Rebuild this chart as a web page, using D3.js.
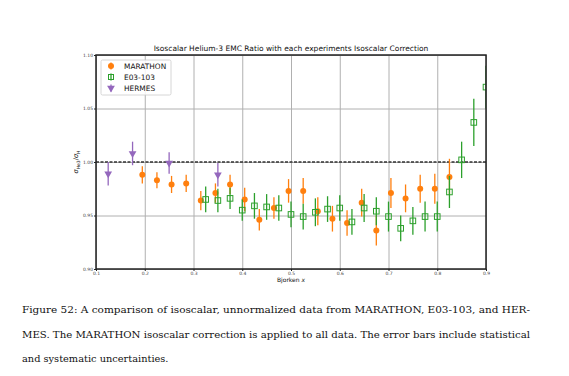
<!DOCTYPE html>
<html>
<head>
<meta charset="utf-8">
<script src="https://cdn.jsdelivr.net/npm/d3@7"></script>
<style>
  body { margin: 0; background: #fff; }
  svg { display: block; }
  .tick text { font-family: "DejaVu Sans", sans-serif; fill: #444; }
</style>
</head>
<body>
<div id="chart"></div>
<script>
// data
var marathonX = [0.195, 0.225, 0.255, 0.285, 0.315, 0.345, 0.375, 0.405, 0.435, 0.465, 0.495,
    0.525, 0.555, 0.585, 0.615, 0.645, 0.675, 0.705, 0.735, 0.765, 0.795, 0.825];
var marathonY = [0.988, 0.983, 0.979, 0.980, 0.964, 0.971, 0.979, 0.965, 0.946, 0.957, 0.973,
    0.973, 0.954, 0.947, 0.943, 0.962, 0.936, 0.971, 0.966, 0.975, 0.975, 0.986];
var marathonErr = [0.008, 0.0075, 0.008, 0.008, 0.009, 0.009, 0.009, 0.011, 0.010, 0.010, 0.011,
    0.012, 0.013, 0.012, 0.012, 0.013, 0.014, 0.014, 0.013, 0.013, 0.014, 0.017];

var e03X = [0.325, 0.35, 0.375, 0.40, 0.425, 0.45, 0.475, 0.50, 0.525, 0.55, 0.575, 0.60,
    0.625, 0.65, 0.675, 0.70, 0.725, 0.75, 0.775, 0.80, 0.825, 0.85, 0.875, 0.90];
var e03Y = [0.965, 0.964, 0.966, 0.955, 0.959, 0.958, 0.957, 0.951, 0.949, 0.953, 0.956, 0.957,
    0.944, 0.957, 0.954, 0.949, 0.938, 0.945, 0.949, 0.949, 0.972, 1.002, 1.037, 1.070];
var e03Err = [0.012, 0.011, 0.010, 0.010, 0.012, 0.012, 0.012, 0.012, 0.012, 0.013, 0.012, 0.012,
    0.012, 0.013, 0.013, 0.014, 0.012, 0.013, 0.014, 0.014, 0.015, 0.017, 0.022, 0.020];

var hermesX = [0.125, 0.175, 0.25, 0.35];
var hermesY = [0.989, 1.008, 0.999, 0.988];
var hermesErr = [0.011, 0.011, 0.010, 0.011];

var xTicks = [0.1, 0.2, 0.3, 0.4, 0.5, 0.6, 0.7, 0.8, 0.9];
var yTicks = [0.90, 0.95, 1.00, 1.05, 1.10];

var chartTitle = "Isoscalar Helium-3 EMC Ratio with each experiments Isoscalar Correction";
var captionLines = [
    "Figure 52: A comparison of isoscalar, unnormalized data from MARATHON, E03-103, and HER-",
    "MES. The MARATHON isoscalar correction is applied to all data. The error bars include statistical",
    "and systematic uncertainties."
];

var colors = { marathon: "#ff7f0e", e03: "#2ca02c", hermes: "#9467bd" };

var W = 569, H = 376;
var margin = { top: 55, bottom: 107, left: 96, right: 83 };

var svg = d3.select("#chart").append("svg")
    .attr("width", W)
    .attr("height", H);

var xScale = d3.scaleLinear().domain([0.1, 0.9]).range([margin.left, W - margin.right]);
var yScale = d3.scaleLinear().domain([0.90, 1.10]).range([H - margin.bottom, margin.top]);

function zip(xs, ys, es) {
    return xs.map(function (x, i) { return { x: x, y: ys[i], e: es[i] }; });
}

var plot = svg.append("g");

plot.append("defs").append("clipPath").attr("id", "clip")
    .append("rect")
    .attr("x", xScale(0.1)).attr("y", yScale(1.10))
    .attr("width", xScale(0.9) - xScale(0.1))
    .attr("height", yScale(0.90) - yScale(1.10));

// grid
plot.append("g")
    .attr("transform", "translate(0," + yScale(0.90) + ")")
    .call(d3.axisBottom(xScale).tickValues(xTicks).tickSize(-(yScale(0.90) - yScale(1.10))).tickFormat(""))
    .call(function (g) { g.select(".domain").remove(); })
    .selectAll("line").attr("stroke", "#b0b0b0").attr("stroke-width", 1);

plot.append("g")
    .attr("transform", "translate(" + xScale(0.1) + ",0)")
    .call(d3.axisLeft(yScale).tickValues(yTicks).tickSize(-(xScale(0.9) - xScale(0.1))).tickFormat(""))
    .call(function (g) { g.select(".domain").remove(); })
    .selectAll("line").attr("stroke", "#b0b0b0").attr("stroke-width", 1);

// reference line at 1
plot.append("line")
    .attr("x1", xScale(0.1)).attr("x2", xScale(0.9))
    .attr("y1", yScale(1.0)).attr("y2", yScale(1.0))
    .attr("stroke", "#333").attr("stroke-width", 1.4)
    .attr("stroke-dasharray", "3,1.5");

var marks = plot.append("g").attr("clip-path", "url(#clip)");

function errorBars(data, color) {
    marks.append("g").selectAll("line")
        .data(data).enter().append("line")
        .attr("x1", function (d) { return xScale(d.x); })
        .attr("x2", function (d) { return xScale(d.x); })
        .attr("y1", function (d) { return yScale(d.y - d.e); })
        .attr("y2", function (d) { return yScale(d.y + d.e); })
        .attr("stroke", color)
        .attr("stroke-width", 1.3);
}

var marathon = zip(marathonX, marathonY, marathonErr);
var e03 = zip(e03X, e03Y, e03Err);
var hermes = zip(hermesX, hermesY, hermesErr);

errorBars(marathon, colors.marathon);
marks.append("g").selectAll("circle")
    .data(marathon).enter().append("circle")
    .attr("cx", function (d) { return xScale(d.x); })
    .attr("cy", function (d) { return yScale(d.y); })
    .attr("r", 3)
    .attr("fill", colors.marathon);

errorBars(e03, colors.e03);
marks.append("g").selectAll("rect")
    .data(e03).enter().append("rect")
    .attr("x", function (d) { return xScale(d.x) - 2.8; })
    .attr("y", function (d) { return yScale(d.y) - 2.8; })
    .attr("width", 5.6).attr("height", 5.6)
    .attr("fill", "none")
    .attr("stroke", colors.e03)
    .attr("stroke-width", 1);

errorBars(hermes, colors.hermes);
var tri = d3.symbol().type(d3.symbolTriangle).size(26);
marks.append("g").selectAll("path")
    .data(hermes).enter().append("path")
    .attr("d", tri)
    .attr("transform", function (d) { return "translate(" + xScale(d.x) + "," + yScale(d.y) + ") rotate(180)"; })
    .attr("fill", colors.hermes);

// axes
var xAxis = plot.append("g")
    .attr("transform", "translate(0," + yScale(0.90) + ")")
    .call(d3.axisBottom(xScale).tickValues(xTicks).tickSize(2).tickPadding(1).tickFormat(d3.format(".1f")));
var yAxis = plot.append("g")
    .attr("transform", "translate(" + xScale(0.1) + ",0)")
    .call(d3.axisLeft(yScale).tickValues(yTicks).tickSize(2).tickPadding(1).tickFormat(d3.format(".2f")));
[xAxis, yAxis].forEach(function (a) {
    a.select(".domain").remove();
    a.selectAll(".tick line").attr("stroke", "#222");
    a.selectAll(".tick text").attr("font-size", 4.5);
});

// frame
plot.append("rect")
    .attr("x", xScale(0.1)).attr("y", yScale(1.10))
    .attr("width", xScale(0.9) - xScale(0.1))
    .attr("height", yScale(0.90) - yScale(1.10))
    .attr("fill", "none")
    .attr("stroke", "#222")
    .attr("stroke-width", 1.5);

// title and labels
svg.append("text")
    .attr("x", (xScale(0.1) + xScale(0.9)) / 2)
    .attr("y", yScale(1.10) - 4)
    .attr("text-anchor", "middle")
    .attr("font-family", "DejaVu Sans, sans-serif")
    .attr("font-size", 7.5)
    .attr("fill", "#111")
    .text(chartTitle);

var xl = svg.append("text")
    .attr("x", (xScale(0.1) + xScale(0.9)) / 2)
    .attr("y", yScale(0.90) + 13)
    .attr("text-anchor", "middle")
    .attr("font-family", "DejaVu Sans, sans-serif")
    .attr("font-size", 6)
    .attr("fill", "#111");
xl.append("tspan").text("Bjorken ");
xl.append("tspan").attr("font-style", "italic").text("x");

var yl = svg.append("text")
    .attr("transform", "translate(" + (xScale(0.1) - 18) + "," + yScale(1.0) + ") rotate(-90)")
    .attr("text-anchor", "middle")
    .attr("font-family", "DejaVu Sans, sans-serif")
    .attr("font-size", 6.5)
    .attr("fill", "#111");
yl.append("tspan").attr("font-style", "italic").text("σ");
yl.append("tspan").attr("font-size", 4.5).attr("dy", 1.5).text("He3");
yl.append("tspan").attr("dy", -1.5).text("/");
yl.append("tspan").attr("font-style", "italic").text("σ");
yl.append("tspan").attr("font-size", 4.5).attr("dy", 1.5).text("H");

// legend
var legend = svg.append("g").attr("transform", "translate(101,60)");
legend.append("rect")
    .attr("width", 70).attr("height", 35).attr("rx", 1.5)
    .attr("fill", "#fff").attr("fill-opacity", 0.85)
    .attr("stroke", "#ccc").attr("stroke-width", 0.8);

var legendItems = [
    { name: "MARATHON", color: colors.marathon, kind: "circle" },
    { name: "E03-103", color: colors.e03, kind: "square" },
    { name: "HERMES", color: colors.hermes, kind: "tri" }
];
legendItems.forEach(function (d, i) {
    var g = legend.append("g").attr("transform", "translate(10," + (6 + i * 11) + ")");
    g.append("line").attr("y1", -3.5).attr("y2", 3.5).attr("stroke", d.color).attr("stroke-width", 1.3);
    if (d.kind === "circle") {
        g.append("circle").attr("r", 3).attr("fill", d.color);
    } else if (d.kind === "square") {
        g.append("rect").attr("x", -2.5).attr("y", -2.5).attr("width", 5).attr("height", 5)
            .attr("fill", "none").attr("stroke", d.color);
    } else {
        g.append("path").attr("d", tri).attr("transform", "rotate(180)").attr("fill", d.color);
    }
    g.append("text")
        .attr("x", 13).attr("y", 2.6)
        .attr("font-family", "DejaVu Sans, sans-serif")
        .attr("font-size", 7.4)
        .attr("fill", "#111")
        .text(d.name);
});

// caption
captionLines.forEach(function (line, i) {
    var t = svg.append("text")
        .attr("x", 22)
        .attr("y", 313 + i * 24.5)
        .attr("font-family", "DejaVu Serif, serif")
        .attr("font-size", 9.8)
        .attr("fill", "#111")
        .text(line);
    if (i < 2) {
        t.attr("textLength", 508).attr("lengthAdjust", "spacingAndGlyphs");
    }
});
</script>
</body>
</html>
